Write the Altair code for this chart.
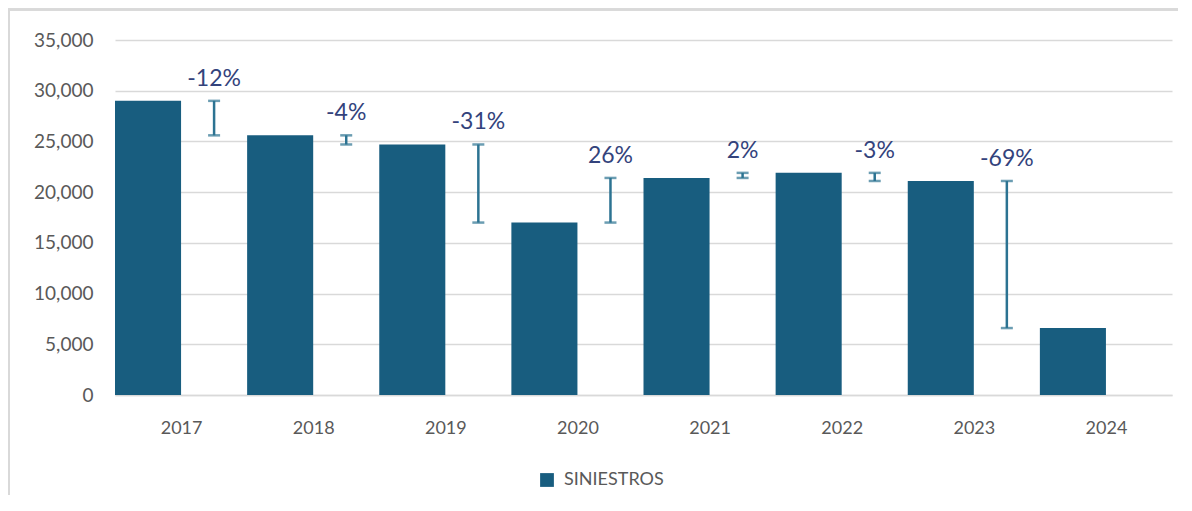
import altair as alt
import pandas as pd

years = ["2017", "2018", "2019", "2020", "2021", "2022", "2023", "2024"]
siniestros = [29000, 25600, 24700, 17000, 21400, 21900, 21100, 6600]
variaciones = ["-12%", "-4%", "-31%", "26%", "2%", "-3%", "-69%"]
y_ticks = [0, 5000, 10000, 15000, 20000, 25000, 30000, 35000]

FONT = "Lato"
BAR = "#185d7f"
ERR = "#2c7392"
LBL = "#33437c"
GREY = "#595959"
FRAME = "#d9d9d9"

bars = pd.DataFrame({
    "idx": list(range(len(years))),
    "year": years,
    "value": siniestros,
    "serie": ["SINIESTROS"] * len(years),
})
bars["x0"] = bars["idx"]
bars["x1"] = bars["idx"] + 0.5
bars["base"] = 0

var = pd.DataFrame({
    "idx": list(range(len(variaciones))),
    "from": siniestros[:-1],
    "to": siniestros[1:],
    "label": variaciones,
})
var["xe"] = var["idx"] + 0.75
var["top"] = var[["from", "to"]].max(axis=1)

label_expr = "[" + ",".join(f"'{y}'" for y in years) + "][floor(datum.value)]"

xscale = alt.Scale(domain=[0, len(years)], nice=False, zero=False, padding=0)
yscale = alt.Scale(domain=[0, 35000], nice=False, padding=0)

x_axis = alt.Axis(
    values=[i + 0.5 for i in range(len(years))],
    labelExpr=label_expr,
    title=None, grid=False, ticks=False, domain=True,
    domainColor="#d9d9d9", domainWidth=1.5,
    labelFont=FONT, labelFontSize=18, labelColor=GREY, labelPadding=24,
)
y_axis = alt.Axis(
    values=y_ticks, format=",.0f", title=None, domain=False, ticks=False,
    grid=True, gridColor="#d9d9d9", gridWidth=1.3,
    labelFont=FONT, labelFontSize=19, labelColor=GREY, labelPadding=22,
)

bar_layer = alt.Chart(bars).mark_bar(color=BAR).encode(
    x=alt.X("x0:Q", scale=xscale, axis=x_axis),
    x2="x1:Q",
    y=alt.Y("value:Q", scale=yscale, axis=y_axis),
    y2="base:Q",
    color=alt.Color(
        "serie:N",
        scale=alt.Scale(domain=["SINIESTROS"], range=[BAR]),
        legend=alt.Legend(
            title=None, orient="none", legendX=423, legendY=431,
            symbolType="square", symbolSize=190, symbolStrokeWidth=0,
            labelFont=FONT, labelFontSize=18, labelColor=GREY, labelOffset=8,
        ),
    ),
)

rule_layer = alt.Chart(var).mark_rule(color=ERR, strokeWidth=2.5).encode(
    x=alt.X("xe:Q", scale=xscale, axis=x_axis),
    y=alt.Y("from:Q", scale=yscale, axis=y_axis),
    y2="to:Q",
)

cap_top = alt.Chart(var).mark_tick(color=ERR, orient="horizontal", size=12, thickness=2.5).encode(
    x=alt.X("xe:Q", scale=xscale, axis=x_axis),
    y=alt.Y("from:Q", scale=yscale, axis=y_axis),
)
cap_bot = alt.Chart(var).mark_tick(color=ERR, orient="horizontal", size=12, thickness=2.5).encode(
    x=alt.X("xe:Q", scale=xscale, axis=x_axis),
    y=alt.Y("to:Q", scale=yscale, axis=y_axis),
)

text_layer = alt.Chart(var).mark_text(
    font=FONT, fontSize=23, color=LBL, baseline="middle", align="center", dy=-22,
).encode(
    x=alt.X("xe:Q", scale=xscale, axis=x_axis),
    y=alt.Y("top:Q", scale=yscale, axis=y_axis),
    text="label:N",
)

# decorative outer frame of the chart (top and left edges)
frame_top = alt.Chart(bars).mark_rule(color=FRAME, strokeWidth=2, clip=False).encode(
    x=alt.value(-106), x2=alt.value(1080), y=alt.value(-30.5)
)
frame_left = alt.Chart(bars).mark_rule(color=FRAME, strokeWidth=2, clip=False).encode(
    x=alt.value(-106), y=alt.value(-31.5), y2=alt.value(475)
)

chart = alt.layer(
    frame_top, frame_left, bar_layer, rule_layer, cap_top, cap_bot, text_layer
).properties(
    width=1057, height=355,
    autosize=alt.AutoSizeParams(type="none"),
    padding={"left": 107, "top": 32, "right": 6, "bottom": 100},
    background="white",
).configure_view(stroke=None)

chart.save("out.html", embed_options={"renderer": "svg", "actions": False})
